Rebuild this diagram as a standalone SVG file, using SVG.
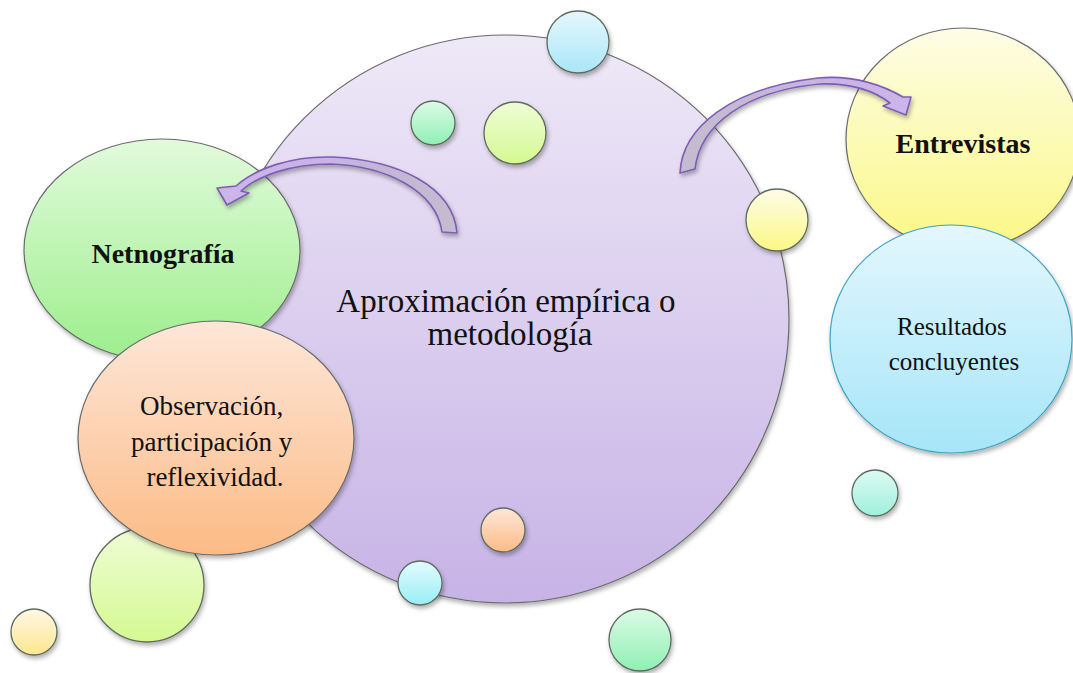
<svg xmlns="http://www.w3.org/2000/svg" width="1073" height="673" viewBox="0 0 1073 673">
  <defs>
    <linearGradient id="gPurple" x1="0" y1="0" x2="0" y2="1">
      <stop offset="0" stop-color="#eee9f7"/>
      <stop offset="1" stop-color="#c7b3e6"/>
    </linearGradient>
    <linearGradient id="gGreen" x1="0" y1="0" x2="0" y2="1">
      <stop offset="0" stop-color="#e2fadc"/>
      <stop offset="1" stop-color="#9cee8c"/>
    </linearGradient>
    <linearGradient id="gOrange" x1="0" y1="0" x2="0" y2="1">
      <stop offset="0" stop-color="#fde7d9"/>
      <stop offset="1" stop-color="#fbbb86"/>
    </linearGradient>
    <linearGradient id="gYellow" x1="0" y1="0" x2="0" y2="1">
      <stop offset="0" stop-color="#fdfde6"/>
      <stop offset="1" stop-color="#fbf885"/>
    </linearGradient>
    <linearGradient id="gBlue" x1="0" y1="0" x2="0" y2="1">
      <stop offset="0" stop-color="#e4f7fd"/>
      <stop offset="1" stop-color="#a6e5f8"/>
    </linearGradient>
    <linearGradient id="gCyan" x1="0" y1="0" x2="0" y2="1">
      <stop offset="0" stop-color="#e6f7fd"/>
      <stop offset="1" stop-color="#a9e6f8"/>
    </linearGradient>
    <linearGradient id="gCyan2" x1="0" y1="0" x2="0" y2="1">
      <stop offset="0" stop-color="#e3fbfd"/>
      <stop offset="1" stop-color="#98eef6"/>
    </linearGradient>
    <linearGradient id="gMint" x1="0" y1="0" x2="0" y2="1">
      <stop offset="0" stop-color="#dcfbe8"/>
      <stop offset="1" stop-color="#8ff0b2"/>
    </linearGradient>
    <linearGradient id="gLime" x1="0" y1="0" x2="0" y2="1">
      <stop offset="0" stop-color="#effcd6"/>
      <stop offset="1" stop-color="#d5f992"/>
    </linearGradient>
    <linearGradient id="gPale" x1="0" y1="0" x2="0" y2="1">
      <stop offset="0" stop-color="#fff8e4"/>
      <stop offset="1" stop-color="#fde68f"/>
    </linearGradient>
    <linearGradient id="gTeal" x1="0" y1="0" x2="0" y2="1">
      <stop offset="0" stop-color="#dcfaf3"/>
      <stop offset="1" stop-color="#9ff0dc"/>
    </linearGradient>
    <linearGradient id="gArrowL" x1="1" y1="0" x2="0" y2="0">
      <stop offset="0" stop-color="#c4bccf"/>
      <stop offset="0.3" stop-color="#c2b6d6"/>
      <stop offset="0.55" stop-color="#c8b3e6"/>
      <stop offset="1" stop-color="#cbb5ea"/>
    </linearGradient>
    <linearGradient id="gArrowR" x1="0" y1="0" x2="1" y2="0">
      <stop offset="0" stop-color="#c4bccf"/>
      <stop offset="0.3" stop-color="#c4b8d8"/>
      <stop offset="0.6" stop-color="#c8b3e6"/>
      <stop offset="1" stop-color="#cbb5ea"/>
    </linearGradient>
    <filter id="shadow" x="-20%" y="-20%" width="140%" height="140%">
      <feDropShadow dx="1.5" dy="3" stdDeviation="2.2" flood-color="#000" flood-opacity="0.3"/>
    </filter>
  </defs>
  <style>
    .node { stroke: #6b6b6b; stroke-width: 1.2; filter: url(#shadow); }
    .dot { stroke: #5f6b5f; stroke-width: 1.3; filter: url(#shadow); }
    .arrow { stroke: #7e5db3; stroke-width: 1.6; stroke-linejoin: round; filter: url(#shadow); }
    .lbl { font-family: "Liberation Serif", "Times New Roman", serif; fill: #111; text-anchor: middle; }
    .bold { font-weight: bold; }
  </style>

  <rect width="1073" height="673" fill="#ffffff"/>

  <!-- central circle -->
  <g id="aproximacion">
    <circle class="node" cx="505" cy="319" r="284" fill="url(#gPurple)"/>
  </g>

  <!-- decorative bubbles -->
  <g id="bubbles">
    <circle class="dot" cx="147" cy="585" r="57" fill="url(#gLime)"/>
    <circle class="dot" cx="34" cy="632" r="23" fill="url(#gPale)"/>
    <circle class="dot" cx="578" cy="42" r="31" fill="url(#gCyan)"/>
    <circle class="dot" cx="433" cy="123" r="22" fill="url(#gMint)"/>
    <circle class="dot" cx="515" cy="133" r="31" fill="url(#gLime)"/>
    <circle class="dot" cx="777" cy="220" r="31" fill="url(#gYellow)"/>
    <circle class="dot" cx="503" cy="530" r="22" fill="url(#gOrange)"/>
    <circle class="dot" cx="420" cy="583" r="22" fill="url(#gCyan2)"/>
    <circle class="dot" cx="640" cy="640" r="31" fill="url(#gMint)"/>
    <circle class="dot" cx="875" cy="493" r="23" fill="url(#gTeal)"/>
  </g>

  <g id="netnografia">
    <ellipse class="node" cx="162" cy="250" rx="138" ry="111" fill="url(#gGreen)"/>
    <text class="lbl bold" x="163" y="263" font-size="28">Netnografía</text>
  </g>

  <g id="observacion">
    <ellipse class="node" cx="216" cy="438" rx="138" ry="117" fill="url(#gOrange)"/>
    <text class="lbl" font-size="27">
      <tspan x="215" y="415">Observación,</tspan>
      <tspan x="215" y="451">participación y</tspan>
      <tspan x="215" y="486">reflexividad.</tspan>
    </text>
  </g>

  <g id="entrevistas">
    <ellipse class="node" cx="963" cy="139" rx="117" ry="111" fill="url(#gYellow)"/>
    <text class="lbl bold" x="963" y="153" font-size="28">Entrevistas</text>
  </g>

  <g id="resultados">
    <ellipse class="node" cx="951" cy="339" rx="121" ry="114" fill="url(#gBlue)" style="stroke:#3fa2c2"/>
    <text class="lbl" font-size="25">
      <tspan x="955" y="335">Resultados</tspan>
      <tspan x="954" y="370">concluyentes</tspan>
    </text>
  </g>

  <g id="aproximacion-label">
    <text class="lbl" font-size="33">
      <tspan x="510" y="312">Aproximación empírica o</tspan>
      <tspan x="510" y="345">metodología</tspan>
    </text>
  </g>

  <!-- curved block arrows -->
  <g id="connectors">
    <path class="arrow" fill="url(#gArrowL)" d="M457,233 C453,186 398,160 332,157 C292,156 256,168 236,186 L217,188 L227,205 L249,193 L241,191 C258,176 290,164 331,164 C385,166 436,190 442,232 Z"/>
    <path class="arrow" fill="url(#gArrowR)" d="M680,173 C682,128 730,88 818,78 C852,75 882,85 903,97 L911,97 L906,115 L883,106 L890,103 C873,90 850,83 820,84 C745,91 700,125 695,169 Z"/>
  </g>
</svg>
